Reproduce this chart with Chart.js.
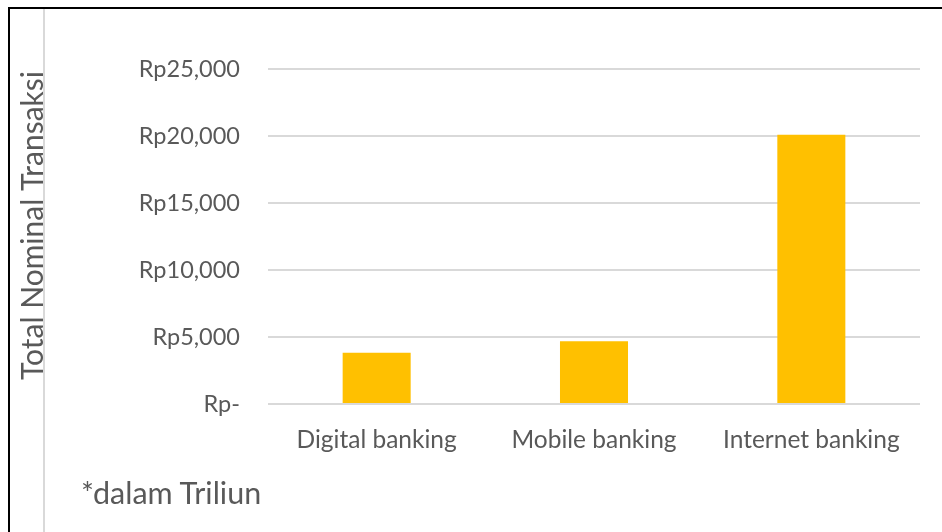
<!DOCTYPE html>
<html>
<head>
<meta charset="utf-8">
<script src="https://cdn.jsdelivr.net/npm/chart.js@4/dist/chart.umd.min.js"></script>
<style>
  html, body { margin: 0; padding: 0; background: #fff; }
  #wrap { position: relative; width: 942px; height: 532px; overflow: hidden; background: #fff; }
  #c { position: absolute; left: 0; top: 0; }
  .bt { position: absolute; left: 8px; top: 7px; width: 934px; height: 2px; background: #000; }
  .bl { position: absolute; left: 8px; top: 7px; width: 2px; height: 525px; background: #000; }
  .gl { position: absolute; left: 43px; top: 9px; width: 2px; height: 523px; background: #d9d9d9; }
  #note { position: absolute; left: 81px; top: 474px; font-family: Lato, sans-serif; font-size: 30.5px; color: #595959; white-space: nowrap; }
</style>
</head>
<body>
<div id="wrap">
  <canvas id="c" width="942" height="532"></canvas>
  <div class="bt"></div>
  <div class="bl"></div>
  <div class="gl"></div>
  <div id="note">*dalam Triliun</div>
</div>
<script>
const categories = ['Digital banking', 'Mobile banking', 'Internet banking'];
const values = [3830, 4680, 20090];
const tickValues = [0, 5000, 10000, 15000, 20000, 25000];
const tickLabels = ['Rp-', 'Rp5,000', 'Rp10,000', 'Rp15,000', 'Rp20,000', 'Rp25,000'];
const yTitle = 'Total Nominal Transaksi';

const textColor = '#595959';

const yTitlePlugin = {
  id: 'yTitlePlugin',
  afterDraw(chart) {
    const { ctx, chartArea } = chart;
    ctx.save();
    ctx.font = '30px Lato';
    ctx.fillStyle = textColor;
    ctx.textAlign = 'center';
    ctx.textBaseline = 'middle';
    ctx.translate(33, (chartArea.top + chartArea.bottom) / 2 - 11);
    ctx.rotate(-Math.PI / 2);
    ctx.fillText(yTitle, 0, 0);
    ctx.restore();
  }
};

new Chart(document.getElementById('c'), {
  type: 'bar',
  data: {
    labels: categories,
    datasets: [{
      data: values,
      backgroundColor: '#FFC000',
      borderWidth: 0,
      barPercentage: 0.313,
      categoryPercentage: 1.0
    }]
  },
  options: {
    responsive: false,
    animation: false,
    devicePixelRatio: 1,
    layout: { padding: { left: 17, right: 22, top: 69, bottom: 0 } },
    plugins: { legend: { display: false }, tooltip: { enabled: false } },
    scales: {
      x: {
        grid: { display: false, drawTicks: false },
        border: { display: false },
        ticks: { color: textColor, font: { family: 'Lato', size: 24.5 }, padding: 21, maxRotation: 0 },
        afterFit: s => { s.height = 128; }
      },
      y: {
        min: 0, max: 25000,
        afterBuildTicks: s => { s.ticks = tickValues.map(v => ({ value: v })); },
        grid: { color: '#d9d9d9', lineWidth: 2, drawTicks: false },
        border: { display: false },
        ticks: {
          color: textColor, font: { family: 'Lato', size: 23.5 }, padding: 28,
          callback: (v) => { const i = tickValues.indexOf(v); return i >= 0 ? tickLabels[i] : ''; }
        },
        afterFit: s => { s.width = 251; }
      }
    }
  },
  plugins: [yTitlePlugin]
});
</script>
</body>
</html>
